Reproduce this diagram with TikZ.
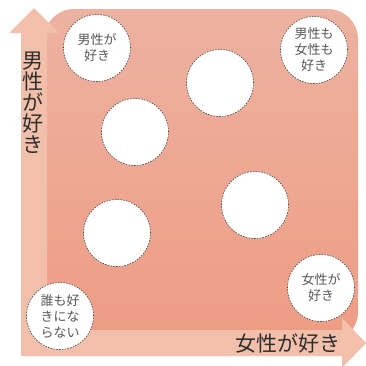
\documentclass[tikz,border=0pt]{standalone}
\usepackage{fontspec}
\setmainfont{Noto Sans CJK JP}
\definecolor{rectTop}{RGB}{237,178,160}
\definecolor{rectBot}{RGB}{238,156,132}
\definecolor{arrowCol}{RGB}{242,192,170}
\definecolor{txtCol}{RGB}{45,45,45}
\begin{document}
\begin{tikzpicture}[x=1pt,y=-1pt,
  bubble/.style={circle,fill=white,draw=txtCol!90,line width=0.6pt,dash pattern=on 1.6pt off 1.2pt,minimum size=67pt,inner sep=0pt,align=center,text=txtCol!80,font=\fontsize{13}{16}\selectfont},
  axislabel/.style={text=txtCol,font=\fontsize{21}{21}\selectfont,inner sep=0pt}]
\useasboundingbox (0,0) rectangle (366,365);
% background rounded rectangle
\shade[top color=rectTop,bottom color=rectBot,rounded corners=30pt] (44,9) rectangle (358,342);
% axes arrows (L-shaped)
\fill[arrowCol] (21,356) -- (21,33) -- (9,33) -- (34,8) -- (59,33) -- (47,33) -- (47,330) -- (342,330) -- (342,318) -- (366,343) -- (342,368) -- (342,356) -- cycle;
% axis labels
\node[axislabel,align=center] (ylab) at (33,103) {男\\性\\が\\好\\き};
\node[axislabel] (xlab) at (288,343) {女性が好き};
% bubbles
\node[bubble] (b1) at (97,48) {男性が\\好き};
\node[bubble] (b2) at (220,83) {};
\node[bubble] (b3) at (314,50) {男性も\\女性も\\好き};
\node[bubble] (b4) at (135,132) {};
\node[bubble] (b5) at (255,205) {};
\node[bubble] (b6) at (117,233) {};
\node[bubble] (b7) at (321,288) {女性が\\好き};
\node[bubble] (b8) at (60,316) {誰も好\\きにな\\らない};
\end{tikzpicture}
\end{document}
